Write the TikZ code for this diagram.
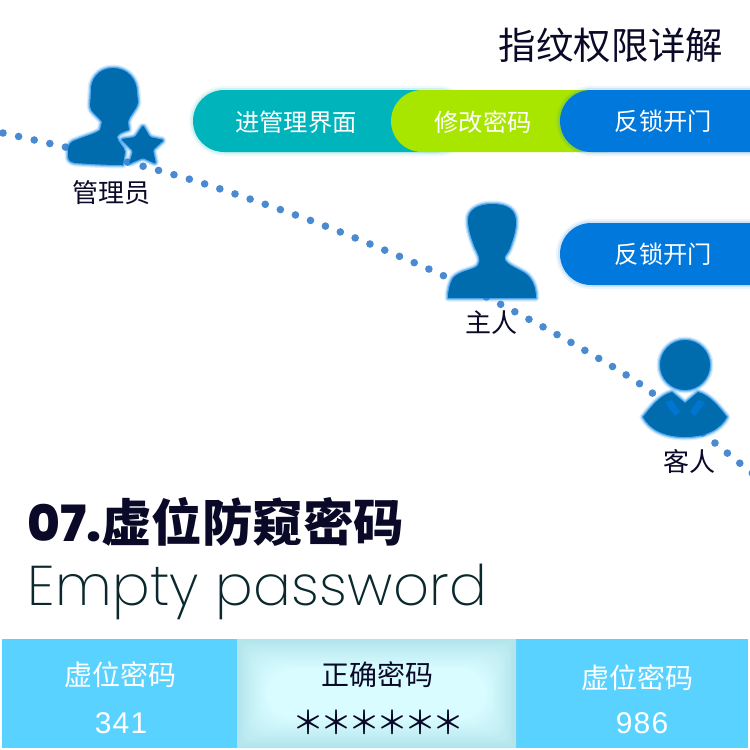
\documentclass[tikz,border=0pt]{standalone}
\usepackage{fontspec}
\setmainfont{Liberation Sans}
\newfontfamily\cjk{Noto Sans CJK SC}
\newfontfamily\cjkheavy{Noto Sans CJK SC Black}
\newfontfamily\headlat{Poppins ExtraBold}
\newfontfamily\thinlat[LetterSpace=0.6]{Poppins ExtraLight}
\newfontfamily\numfont[LetterSpace=4]{Liberation Sans}
\definecolor{dotc}{HTML}{4A8AD0}
\definecolor{iconc}{HTML}{006CAE}
\definecolor{glowc}{HTML}{1E90F0}
\definecolor{tealc}{HTML}{00B4BC}
\definecolor{greenc}{HTML}{A8E600}
\definecolor{bluec}{HTML}{0078DC}
\definecolor{inkc}{HTML}{0A0A28}
\definecolor{cellc}{HTML}{5AD2FF}
\definecolor{midin}{HTML}{D8FCFF}
\definecolor{midout}{HTML}{B2E4EC}
\tikzset{
  halo/.style={preaction={draw=#1,line width=7pt,opacity=.15,line join=round},
               preaction={draw=#1,line width=4.5pt,opacity=.3,line join=round},
               preaction={draw=#1,line width=2.5pt,opacity=.55,line join=round}},
  softhalo/.style={preaction={draw=#1,line width=8pt,opacity=.07,line join=round},
               preaction={draw=#1,line width=4pt,opacity=.12,line join=round}},
  iconshape/.style={fill=iconc,halo=glowc},
  pilllabel/.style={text=white,font=\cjk\fontsize{24.3}{28}\selectfont},
  rolelabel/.style={text=inkc,font=\cjk\fontsize{26}{30}\selectfont},
  celltitle/.style={font=\cjk\fontsize{28}{32}\selectfont},
  cellnum/.style={text=white,font=\numfont\fontsize{30}{34}\selectfont},
  pill/.style={rounded corners=31pt,fill=#1}
}
\begin{document}
\begin{tikzpicture}[x=1pt,y=-1pt]
\useasboundingbox (0,0) rectangle (750,750);
\fill[white] (0,0) rectangle (750,750);
% dotted trail
\draw[dotc,line width=7.6pt,line cap=round,dash pattern=on 0pt off 16pt]
  plot[smooth,tension=.5] coordinates {(3,133) (65,147) (127,162) (205,184) (320,224) (431,270) (502,305) (572,343) (640,384) (705,435) (742,465) (770,487)};
% admin
\path[iconshape] (113,68) .. controls (128,68) and (137,80) .. (137,92)
  -- (138,102) .. controls (137,110) and (130,114) .. (128,122)
  -- (129,130) .. controls (122,132) and (118,134) .. (117,137)
  .. controls (118,143) and (125,147) .. (125,152) -- (123,165)
  .. controls (105,165) and (90,164) .. (75,163)
  .. controls (70,162) and (68,160) .. (68,156) -- (68,150)
  .. controls (68,144) and (72,141) .. (76,140)
  .. controls (85,136) and (95,134) .. (100,130)
  -- (102,122) .. controls (97,115) and (90,112) .. (90,106)
  -- (91,92) .. controls (90,80) and (98,68) .. (113,68) -- cycle;
\path[iconshape,rounded corners=1.5pt] (143,125) -- (150,137) -- (164,140) -- (153,150) -- (156,164)
  -- (143,158) -- (129,164) -- (133,151) -- (121,139) -- (135,137) -- cycle;
% owner
\path[iconshape] (492,204) .. controls (508,204) and (516,210) .. (516,222)
  .. controls (516,232) and (512,242) .. (510,248)
  .. controls (508,254) and (503,256) .. (505,260)
  .. controls (510,268) and (525,270) .. (530,278)
  .. controls (534,283) and (536,290) .. (536,298)
  -- (448,298) .. controls (448,290) and (450,283) .. (453,278)
  .. controls (460,270) and (475,270) .. (478,265)
  .. controls (482,260) and (477,252) .. (475,248)
  .. controls (472,240) and (468,230) .. (468,220)
  .. controls (468,210) and (478,204) .. (492,204) -- cycle;
% guest
\path[iconshape] (685,365) circle[radius=25];
\path[iconshape] (643,417) .. controls (650,408) and (660,395) .. (672,392)
  -- (685,403) -- (698,392) .. controls (710,395) and (720,408) .. (727,417)
  .. controls (720,430) and (705,437) .. (685,437)
  .. controls (665,437) and (650,430) .. (643,417) -- cycle;
\fill[bluec!80!iconc] (665,402) -- (672,400) -- (680,412) -- (675,416) -- cycle;
\fill[bluec!80!iconc] (705,402) -- (698,400) -- (690,412) -- (695,416) -- cycle;
% pills
\path[pill=tealc,softhalo=tealc] (193,90) rectangle (470,152);
\path[pill=greenc] (391,90) rectangle (640,152);
\path[pill=bluec,softhalo=bluec] (560,90) rectangle (820,152);
\path[pill=bluec,softhalo=bluec] (560,223) rectangle (820,285);
\node[pilllabel] (p1) at (296,122) {进管理界面};
\node[pilllabel] (p2) at (483,122) {修改密码};
\node[pilllabel] (p3) at (663.5,121) {反锁开门};
\node[pilllabel] (p4) at (663.5,254) {反锁开门};
% titles
\node[text=inkc,font=\cjk\fontsize{37.4}{42}\selectfont] (top) at (611,45) {指纹权限详解};
\node[rolelabel] (r1) at (111,193) {管理员};
\node[rolelabel] (r2) at (491,323) {主人};
\node[rolelabel] (r3) at (689,461) {客人};
\node[anchor=base west,inner sep=0pt,text=inkc] (head) at (27,541)
  {{\headlat\fontsize{50}{54}\selectfont 07.}{\cjkheavy\fontsize{50.5}{54}\selectfont 虚位防窥密码}};
\node[anchor=base west,inner sep=0pt,text={rgb,255:red,10;green,40;blue,45}] (sub) at (27,605)
  {\thinlat\fontsize{56}{60}\selectfont Empty password};
% table
\fill[cellc] (2,639) rectangle (237,748);
\fill[cellc] (516,639) rectangle (748,748);
\fill[midout] (237,639) rectangle (516,748);
\foreach \i in {0,...,24}{
  \pgfmathsetmacro\mixp{100*\i/24}
  \pgfmathsetmacro\rc{1.2*\i+0.01}
  \fill[midin!\mixp!midout,rounded corners=\rc pt] (237+1.2*\i,639+1.2*\i) rectangle (516-1.2*\i,748-1.2*\i);
}
\node[celltitle,text=white] (c1) at (120,675) {虚位密码};
\node[cellnum] (n1) at (121,723) {341};
\node[celltitle,text=inkc] (c2) at (377.5,675) {正确密码};
\node[text=inkc,font=\cjk\fontsize{32}{34}\selectfont,inner sep=0pt] (n2) at (378,722) {\addfontfeature{LetterSpace=-12.5}＊＊＊＊＊＊};
\node[celltitle,text=white] (c3) at (637,678) {虚位密码};
\node[cellnum] (n3) at (642,723) {986};
\end{tikzpicture}
\end{document}
